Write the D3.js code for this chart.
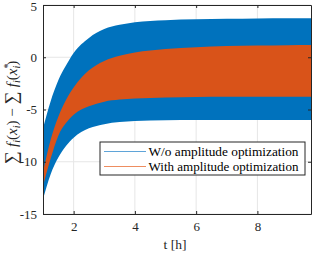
<!DOCTYPE html>
<html lang="en">
<head>
    <title>Objective gap over time</title>
    <script src="https://d3js.org/d3.v7.min.js"></script>
    <style>
        body { margin: 0; background: #fff; }
        text { font-family: "Liberation Serif", "DejaVu Serif", serif; fill: #262626; }
    </style>
</head>
<body>
    <div id="chart"></div>
    <script>

        // time samples [h]
        const hours = [1, 1.25, 1.5, 1.75, 2, 2.5, 3, 3.5, 4, 5, 6, 7, 8, 9, 9.75];

        // band without amplitude optimization (blue)
        const woUpper = [-6.8, -4.2, -2.2, -0.8, 0.4, 1.85, 2.7, 3.1, 3.35, 3.55, 3.64, 3.69, 3.72, 3.73, 3.74];
        const woLower = [-13.6, -11.2, -9.6, -8.5, -7.7, -6.8, -6.4, -6.2, -6.1, -6.03, -6.0, -6.0, -6.0, -6.0, -6.0];

        // band with amplitude optimization (orange)
        const withUpper = [-11.0, -7.9, -5.7, -4.1, -2.9, -1.25, -0.35, 0.15, 0.45, 0.78, 0.96, 1.07, 1.13, 1.16, 1.18];
        const withLower = [-12.3, -9.7, -7.5, -6.3, -5.5, -4.7, -4.25, -4.05, -3.95, -3.85, -3.8, -3.78, -3.77, -3.77, -3.77];

        const xTicks = [2, 4, 6, 8];
        const yTicks = [-15, -10, -5, 0, 5];
        const legendLabels = ["W/o amplitude optimization", "With amplitude optimization"];

        const width = 316, height = 256;
        const margin = { top: 5, right: 5, bottom: 42, left: 43 };

        const svg = d3.select("#chart")
            .append("svg")
            .attr("width", width)
            .attr("height", height);

        const x = d3.scaleLinear().domain([1, 9.75]).range([margin.left, width - margin.right]);
        const y = d3.scaleLinear().domain([-15, 5]).range([height - margin.bottom, margin.top]);

        // grid
        svg.append("g")
            .selectAll("line")
            .data(xTicks)
            .enter().append("line")
            .attr("x1", d => x(d)).attr("x2", d => x(d))
            .attr("y1", y(-15)).attr("y2", y(5))
            .attr("stroke", "#e6e6e6").attr("stroke-width", 1);
        svg.append("g")
            .selectAll("line")
            .data(yTicks)
            .enter().append("line")
            .attr("x1", x(1)).attr("x2", x(9.75))
            .attr("y1", d => y(d)).attr("y2", d => y(d))
            .attr("stroke", "#e6e6e6").attr("stroke-width", 1);

        const band = (upper, lower) => d3.area()
            .x((d, i) => x(hours[i]))
            .y0((d, i) => y(lower[i]))
            .y1((d, i) => y(upper[i]))
            .curve(d3.curveMonotoneX)(hours);

        svg.append("path").attr("d", band(woUpper, woLower)).attr("fill", "#0072BD");
        svg.append("path").attr("d", band(withUpper, withLower)).attr("fill", "#D95319");

        // axes box with inward ticks
        const axisColor = "#262626";
        svg.append("g")
            .attr("transform", `translate(0,${y(-15)})`)
            .call(d3.axisBottom(x).tickValues(xTicks).tickSizeInner(-3).tickSizeOuter(0).tickPadding(8))
            .call(g => g.selectAll("text").style("font-size", "13px"));
        svg.append("g")
            .attr("transform", `translate(0,${y(5)})`)
            .call(d3.axisTop(x).tickValues(xTicks).tickSizeInner(-3).tickSizeOuter(0).tickFormat(""));
        svg.append("g")
            .attr("transform", `translate(${x(1)},0)`)
            .call(d3.axisLeft(y).tickValues(yTicks).tickSizeInner(-3).tickSizeOuter(0).tickPadding(6)
                .tickFormat(d => d < 0 ? "-" + Math.abs(d) : d))
            .call(g => g.selectAll("text").style("font-size", "13px"));
        svg.append("g")
            .attr("transform", `translate(${x(9.75)},0)`)
            .call(d3.axisRight(y).tickValues(yTicks).tickSizeInner(-3).tickSizeOuter(0).tickFormat(""));
        svg.selectAll(".domain, .tick line").attr("stroke", axisColor);
        svg.selectAll(".tick text").attr("fill", axisColor).style("font-family", "'Liberation Serif', serif");
        // keep the top "5" label inside the picture
        svg.selectAll(".tick text").filter(d => d === 5).attr("dy", "0.45em");

        // x label
        svg.append("text")
            .attr("x", 175)
            .attr("y", 249)
            .attr("text-anchor", "middle")
            .style("font-size", "13.5px")
            .text("t [h]");

        // y label
        const yl = svg.append("text")
            .attr("transform", `translate(17,${(y(-15) + y(5)) / 2 + 3}) rotate(-90)`)
            .attr("text-anchor", "middle")
            .style("font-size", "15px");
        yl.append("tspan").attr("font-size", "18px").text("∑ ");
        yl.append("tspan").attr("font-style", "italic").text("f");
        yl.append("tspan").attr("font-style", "italic").attr("font-size", "10px").attr("dy", 3).text("i");
        yl.append("tspan").attr("dy", -3).text("(");
        yl.append("tspan").attr("font-style", "italic").text("x");
        yl.append("tspan").attr("font-style", "italic").attr("font-size", "10px").attr("dy", 3).text("i");
        yl.append("tspan").attr("dy", -3).text(") − ");
        yl.append("tspan").attr("font-size", "18px").text("∑ ");
        yl.append("tspan").attr("font-style", "italic").text("f");
        yl.append("tspan").attr("font-style", "italic").attr("font-size", "10px").attr("dy", 3).text("i");
        yl.append("tspan").attr("dy", -3).text("(");
        yl.append("tspan").attr("font-style", "italic").text("x");
        yl.append("tspan").attr("font-size", "10px").attr("dy", -6).text("*");
        yl.append("tspan").attr("font-style", "italic").attr("font-size", "10px").attr("dx", -5).attr("dy", 9).text("i");
        yl.append("tspan").attr("dy", -3).text(")");

        // legend
        const lg = svg.append("g").attr("transform", "translate(100,142)");
        lg.append("rect")
            .attr("width", 205).attr("height", 33)
            .attr("fill", "#fff").attr("stroke", "#262626").attr("stroke-width", 1);
        const legendColors = ["#5fa4d8", "#ee8d60"];
        lg.selectAll("g.item")
            .data(legendLabels)
            .enter().append("g")
            .attr("class", "item")
            .attr("transform", (d, i) => `translate(0,${9.5 + i * 15})`)
            .each(function (d, i) {
                const g = d3.select(this);
                g.append("line").attr("x1", 4).attr("x2", 46)
                    .attr("stroke", legendColors[i]).attr("stroke-width", 1.2);
                g.append("text").attr("x", 48.5).attr("dy", "0.35em")
                    .attr("textLength", 150).attr("lengthAdjust", "spacingAndGlyphs")
                    .style("font-size", "12.5px").style("fill", "#000").text(d);
            });

    </script>
</body>
</html>
